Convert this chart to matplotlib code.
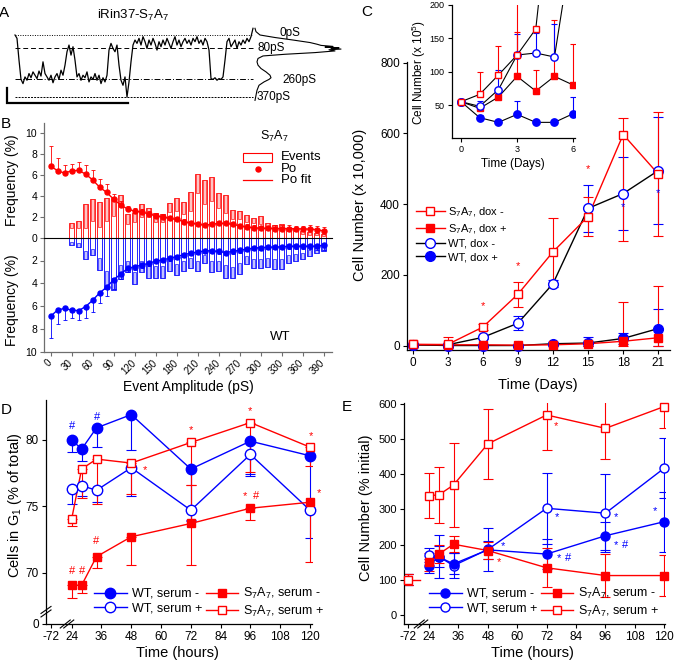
import matplotlib
matplotlib.use("Agg")
import matplotlib.pyplot as plt
from matplotlib.lines import Line2D
from matplotlib.patches import Rectangle
import numpy as np

plt.rcParams['font.family'] = ['Liberation Sans', 'DejaVu Sans']
plt.rcParams['mathtext.fontset'] = 'custom'
plt.rcParams['mathtext.rm'] = 'Liberation Sans'
plt.rcParams['mathtext.it'] = 'Liberation Sans:italic'
plt.rcParams['mathtext.bf'] = 'Liberation Sans:bold'
plt.rcParams['axes.linewidth'] = 0.9

RED = '#ff0000'
BLUE = '#0000ff'
PALE_RED = '#ffc4c4'
PALE_BLUE = '#c4c4ff'
GREY = '#6e6e6e'

# ---------------- Panel A data ----------------
trace_pS = [0, 20, 150, 265, 290, 250, 270, 230, 255, 220,
            240, 260, 215, 245, 160, 230, 250, 270, 240, 285,
            250, 230, 265, 210, 240, 180, 100, 60, 120, 70,
            150, 250, 230, 270, 240, 255, 220, 280, 250, 265,
            230, 270, 240, 290, 255, 280, 240, 90, 50, 80,
            100, 60, 180, 270, 300, 250, 370, 280, 160, 60,
            30, 50, 20, 60, 10, 40, 80, 30, 60, 20,
            50, 90, 40, 70, 30, 60, 20, 50, 80, 40,
            10, 60, 30, 70, 40, 20, 50, 30, 60, 20,
            40, 10, 50, 30, 60, 20, 40, 90, 260, 265,
            255, 270, 260, 265, 250, 150, 40, 20, 70, 50,
            30, 80, 40, 60, 30, 50, 20, 40, 10, -40]
hist_levels_pS = [-40, -20, 0, 15, 30, 45, 55, 62, 68, 72, 76, 80, 84, 88, 95, 105,
                  115, 125, 140, 160, 180, 200, 220, 240, 255, 265, 280, 300, 330, 360, 390]
hist_counts = [0, 1, 5, 20, 38, 55, 62, 66, 78, 70, 84, 76, 86, 74, 80, 60,
               30, 8, 3, 2, 3, 6, 11, 15, 16, 14, 9, 4, 2, 1, 0]
level_values_pS = [0, 80, 260, 370]
level_labels = ['0pS', '80pS', '260pS', '370pS']

# ---------------- Panel B data ----------------
amp_pS = [0, 10, 20, 30, 40, 50, 60, 70, 80, 90, 100, 110, 120, 130, 140, 150, 160, 170, 180, 190,
          200, 210, 220, 230, 240, 250, 260, 270, 280, 290, 300, 310, 320, 330, 340, 350, 360, 370, 380, 390]
po_s7 = [6.9, 6.4, 6.2, 6.4, 6.45, 6.1, 5.55, 4.85, 4.35, 3.7,
         3.15, 2.75, 2.55, 2.45, 2.3, 2.1, 2.0, 1.85, 1.75, 1.55,
         1.4, 1.3, 1.2, 1.28, 1.37, 1.37, 1.28, 1.15, 1.02, 0.96,
         0.9, 0.9, 0.88, 0.88, 0.88, 0.85, 0.85, 0.82, 0.78, 0.65]
po_s7_err = [1.9, 1.2, 0.8, 0.7, 0.85, 0.9, 0.95, 0.75, 0.75, 0.5,
             0.35, 0.3, 0.3, 0.3, 0.3, 0.25, 0.25, 0.2, 0.2, 0.2,
             0.2, 0.2, 0.2, 0.2, 0.2, 0.2, 0.2, 0.2, 0.25, 0.25,
             0.25, 0.25, 0.3, 0.3, 0.3, 0.3, 0.3, 0.35, 0.35, 0.4]
po_wt = [6.9, 6.35, 6.2, 6.35, 6.4, 6.05, 5.5, 4.85, 4.35, 3.7,
         3.2, 2.7, 2.55, 2.4, 2.25, 2.05, 1.95, 1.8, 1.65, 1.5,
         1.35, 1.25, 1.15, 1.15, 1.2, 1.3, 1.2, 1.1, 1.0, 0.92,
         0.87, 0.83, 0.83, 0.8, 0.75, 0.75, 0.75, 0.75, 0.75, 0.65]
po_wt_err = [1.9, 1.25, 1.0, 0.7, 0.8, 0.95, 1.0, 0.9, 0.75, 0.8,
             0.4, 0.3, 0.25, 0.25, 0.25, 0.2, 0.2, 0.2, 0.2, 0.2,
             0.2, 0.2, 0.2, 0.2, 0.2, 0.2, 0.2, 0.2, 0.2, 0.2,
             0.2, 0.2, 0.2, 0.2, 0.2, 0.25, 0.25, 0.25, 0.3, 0.4]
events_amp_s7 = [30, 40, 50, 60, 70, 80, 90, 100, 110, 120, 130, 140, 150, 160, 170, 180, 190,
                 200, 210, 220, 230, 240, 250, 260, 270, 280, 290, 300, 310, 320, 330, 340, 350,
                 360, 370, 380, 390]
events_top_s7 = [1.45, 1.6, 3.2, 3.75, 3.45, 3.85, 3.8, 4.1, 2.25, 2.35,
                 3.2, 2.8, 2.35, 2.25, 3.3, 3.85, 3.45, 4.4, 6.15, 5.5,
                 5.85, 4.25, 4.1, 2.7, 2.6, 2.15, 1.85, 2.05, 1.4, 1.2,
                 1.3, 0.9, 0.9, 0.6, 0.5, 0.45, 0.35]
events_mid_s7 = [0.9, 0.9, 0.9, 1.6, 1.0, 1.6, 2.1, 3.0, 1.3, 1.5,
                 2.0, 2.0, 1.5, 1.5, 2.5, 2.6, 2.3, 2.6, 4.3, 3.2,
                 3.5, 2.8, 2.4, 1.8, 1.8, 1.5, 1.4, 1.3, 0.9, 0.9,
                 0.8, 0.6, 0.6, 0.4, 0.3, 0.3, 0.2]
events_amp_wt = [20, 30, 40, 50, 60, 70, 80, 90, 100, 110, 120, 130, 140, 150, 160, 170, 180, 190,
                 200, 210, 220, 230, 240, 250, 260, 270, 280, 290, 300, 310, 320, 330, 340, 350,
                 360, 370, 380, 390]
events_top_wt = [0.05, 0.65, 0.85, 1.9, 1.5, 2.8, 4.5, 4.6, 3.6, 3.0,
                 4.1, 3.0, 3.5, 3.5, 3.5, 2.9, 3.25, 2.9, 2.7, 2.9,
                 2.2, 3.0, 2.9, 3.5, 3.5, 3.2, 2.3, 2.65, 2.65, 2.6,
                 2.75, 2.75, 2.2, 2.05, 1.9, 1.6, 1.3, 1.15]
events_mid_wt = [0.03, 0.4, 0.5, 1.2, 1.0, 1.8, 2.9, 3.5, 2.4, 2.0,
                 3.0, 2.0, 2.5, 2.5, 2.5, 2.0, 2.3, 2.0, 1.8, 2.0,
                 1.5, 2.0, 2.0, 2.4, 2.6, 2.2, 1.6, 1.9, 1.9, 1.8,
                 1.9, 1.9, 1.5, 1.4, 1.3, 1.1, 0.9, 0.8]
b_xticks = [0, 30, 60, 90, 120, 150, 180, 210, 240, 270, 300, 330, 360, 390]

# ---------------- Panel C data ----------------
days_main = [0, 3, 6, 9, 12, 15, 18, 21]
c_s7_doxm = [3, 3, 52, 145, 265, 365, 597, 485]
c_s7_doxm_lo = [0, 3, 8, 35, 95, 55, 300, 175]
c_s7_doxm_hi = [0, 20, 8, 35, 95, 55, 46, 175]
c_wt_doxm = [2, 2, 23, 63, 175, 388, 430, 495]
c_wt_doxm_err = [0, 0, 5, 20, 10, 66, 104, 151]
c_s7_doxp = [3, 2, 2, 1, 2, 5, 12, 22]
c_s7_doxp_lo = [0, 0, 0, 0, 0, 5, 12, 22]
c_s7_doxp_hi = [0, 0, 0, 0, 0, 5, 110, 145]
c_wt_doxp = [2, 0, 0, 0, 5, 7, 20, 48]
c_wt_doxp_lo = [0, 0, 0, 0, 5, 7, 16, 48]
c_wt_doxp_hi = [0, 0, 0, 0, 5, 18, 16, 54]
c_red_star = [(6, 112), (9, 225), (15, 498)]
c_blue_star = [(18, 393), (21, 432)]

days_inset = [0, 1, 2, 3, 4, 5, 6]
i_s7_doxm = [55, 66, 95, 125, 164, 420, 700]
i_s7_doxm_hi = [0, 34, 44, 100, 0, 0, 0]
i_wt_doxm = [55, 48, 73, 125, 128, 122, 300]
i_wt_doxm_hi = [0, 8, 29, 32, 30, 50, 0]
i_s7_doxp = [55, 45, 62, 93, 71, 93, 80]
i_s7_doxp_hi = [0, 0, 0, 67, 31, 84, 61]
i_wt_doxp = [55, 31, 24, 36, 24, 24, 37]
i_wt_doxp_hi = [0, 4, 3, 20, 4, 3, 25]

# ---------------- Panel D data ----------------
hours = [24, 28, 34, 48, 72, 96, 120]
hour_ticks = [24, 36, 48, 60, 72, 84, 96, 108, 120]
g1_wt_sm = [80.0, 79.3, 80.9, 81.9, 77.8, 79.9, 78.8]
g1_wt_sm_lo = [0.95, 0.9, 1.45, 2.7, 3.8, 2.6, 3.8]
g1_wt_sm_hi = [0, 0, 0, 0, 0, 0, 0]
g1_wt_sp = [76.3, 76.55, 76.2, 77.9, 74.7, 78.9, 74.7]
g1_wt_sp_lo = [1.15, 0.8, 0.9, 2.1, 0.8, 1.5, 2.1]
g1_wt_sp_hi = [0, 0, 0, 0, 3.1, 0, 0]
g1_s7_sm = [69.05, 69.05, 71.2, 72.7, 73.7, 74.85, 75.3]
g1_s7_sm_lo = [0.95, 0.55, 0.85, 2.1, 3.1, 0.85, 4.5]
g1_s7_sm_hi = [0, 0, 0, 0, 2.9, 0, 0]
g1_s7_sp = [74.05, 77.8, 78.55, 78.25, 79.8, 81.3, 79.45]
g1_s7_sp_lo = [0.55, 2.2, 3.35, 2.3, 3.2, 3.7, 1.4]
g1_s7_sp_hi = [0, 0, 0, 0, 0, 0, 0]
d_marks = [('#', BLUE, 24.1, 81.05), ('#', BLUE, 34.2, 81.7), ('*', RED, 72, 80.7),
           ('*', RED, 95.8, 82.2), ('*', RED, 120.4, 80.3), ('*', RED, 53.5, 77.75),
           ('*', RED, 123.7, 76.0), ('*', RED, 93.8, 75.8), ('#', RED, 98.3, 75.8),
           ('#', RED, 33.8, 72.4), ('#', RED, 24.1, 70.15), ('#', RED, 28.2, 70.15)]

# ---------------- Panel E data ----------------
baseline_value = 100
baseline_err = 15
cn_wt_sm = [140, 165, 145, 185, 173, 225, 265]
cn_wt_sm_err = [20, 30, 30, 25, 43, 40, 85]
cn_wt_sp = [170, 166, 140, 186, 303, 289, 417]
cn_wt_sp_err = [20, 60, 35, 60, 100, 110, 85]
cn_s7_sm = [150, 173, 201, 183, 134, 112, 112]
cn_s7_sm_err = [25, 25, 23, 25, 55, 60, 58]
cn_s7_sp = [339, 341, 369, 486, 568, 530, 592]
cn_s7_sp_err = [64, 80, 120, 100, 100, 88, 60]
e_marks = [('*', RED, 75.8, 537), ('*', RED, 52.6, 150), ('*', BLUE, 54.2, 196),
           ('*', BLUE, 77.1, 162), ('#', BLUE, 80.7, 162), ('*', BLUE, 76.2, 278),
           ('*', BLUE, 100.3, 278), ('*', BLUE, 100.3, 199), ('#', BLUE, 104.0, 199),
           ('*', BLUE, 116.2, 295)]

# ---------------- helpers ----------------
W, H = 674, 664
fig = plt.figure(figsize=(W / 100, H / 100), dpi=100)


def fx(x):
    return x / W


def fy(y):
    return 1 - y / H


def box(l, t, r, b):
    return [l / W, 1 - b / H, (r - l) / W, (b - t) / H]


def series(ax, x, y, lo, hi, color, linecolor, marker, filled, ms, capsize,
           lw=1.0, clip=False, elw=0.8):
    ax.errorbar(x, y, yerr=[lo, hi], fmt='none', ecolor=color, elinewidth=elw,
                capsize=capsize, capthick=elw, zorder=2)
    ax.plot(x, y, color=linecolor, lw=lw, zorder=3)
    ax.plot(x, y, linestyle='none', marker=marker, ms=ms, mec=color,
            mfc=color if filled else 'white', mew=1.0, zorder=4, clip_on=clip)


def handle(color, linecolor, marker, filled, ms):
    return Line2D([], [], color=linecolor, lw=1.0, marker=marker, ms=ms, mec=color,
                  mfc=color if filled else 'white', mew=1.0)


def style_axes(ax, size=8, color='black'):
    for s in ('top', 'right'):
        ax.spines[s].set_visible(False)
    for s in ('left', 'bottom'):
        ax.spines[s].set_color(color)
    ax.tick_params(direction='out', length=3, width=0.8, labelsize=size, color=color, pad=2)


def brk(xp, yp, size=5, gap=3.5):
    for d in (-gap / 2, gap / 2):
        fig.add_artist(Line2D([fx(xp - size + d), fx(xp + size + d)],
                              [fy(yp + size * 0.8), fy(yp - size * 0.8)],
                              color='black', lw=0.8, transform=fig.transFigure))


def vbrk(xp, yp, size=5, gap=3.5):
    for d in (-gap / 2, gap / 2):
        fig.add_artist(Line2D([fx(xp - size), fx(xp + size)],
                              [fy(yp + size * 0.7 + d), fy(yp - size * 0.7 + d)],
                              color='black', lw=0.8, transform=fig.transFigure))

# ================= Panel A =================
axA = fig.add_axes(box(5, 25, 255, 106))
axA.set_xlim(-5, 120)
scale = 0.1676
axA.set_ylim((106 - 35) / scale, -(35 - 25) / scale)
axA.axis('off')
t = np.arange(len(trace_pS))
axA.plot(t, trace_pS, color='black', lw=0.9)
level_styles = [(0, (1, 1.5)), (0, (5, 3)), (0, (6, 2, 1, 2)), (0, (2, 1.2))]
for lv, ls in zip(level_values_pS, level_styles):
    axA.hlines(lv, t[0], t[-1], color='black', lw=0.7, linestyles=[ls])
axA.plot([-4, -4, 56.5], [316, 406, 406], color='black', lw=1.6, clip_on=False,
         solid_joinstyle='miter')

axHist = fig.add_axes(box(255, 25, 345, 106))
axHist.set_xlim(0, 90)
axHist.set_ylim((106 - 35) / scale, -(35 - 25) / scale)
axHist.axis('off')
axHist.plot(hist_counts, hist_levels_pS, color='black', lw=0.8, clip_on=False)
label_pos = [(25, -12), (2, 77), (27, 268), (2, 372)]
for (cx, cy), lab in zip(label_pos, level_labels):
    axHist.text(cx, cy, lab, fontsize=8.5, ha='left', va='center')

fig.text(fx(133), fy(15), 'iRin37-S$_7$A$_7$', ha='center', va='center', fontsize=9.5)
fig.text(fx(4), fy(13), 'A', ha='center', va='center', fontsize=11)

# ================= Panel B =================
axBu = fig.add_axes(box(44, 123.3, 331.7, 237.7))
axBl = fig.add_axes(box(44, 237.7, 331.7, 351.7))
for ax in (axBu, axBl):
    ax.set_xlim(-9.3, 401.7)
    style_axes(ax, size=7.5, color=GREY)
    ax.patch.set_alpha(0)
axBu.set_ylim(0, 10.96)
axBl.set_ylim(10, 0)
axBu.spines['bottom'].set_visible(False)
axBu.set_xticks([])
axBu.set_yticks([0, 2, 4, 6, 8, 10])
axBl.set_yticks([2, 4, 6, 8, 10])
axBl.set_xticks(b_xticks)
axBl.set_xticklabels([str(v) for v in b_xticks], rotation=45, ha='right', va='center',
                     rotation_mode='anchor')
axBl.tick_params(axis='x', pad=4, labelsize=7)

bw = 6.3
axBu.bar(events_amp_s7, events_top_s7, width=bw, fill=False, edgecolor=RED, lw=0.6, zorder=1)
axBu.bar(events_amp_s7, np.array(events_top_s7) - np.array(events_mid_s7), bottom=events_mid_s7,
         width=bw * 0.7, color=PALE_RED, edgecolor=RED, lw=0.45, zorder=1)
axBl.bar(events_amp_wt, events_top_wt, width=bw, fill=False, edgecolor=BLUE, lw=0.6, zorder=1)
axBl.bar(events_amp_wt, np.array(events_top_wt) - np.array(events_mid_wt), bottom=events_mid_wt,
         width=bw * 0.7, color=PALE_BLUE, edgecolor=BLUE, lw=0.45, zorder=1)
zeros40 = np.zeros(len(amp_pS))
axBu.errorbar(amp_pS, po_s7, yerr=[zeros40, po_s7_err], fmt='o-', color=RED, ms=3.6, lw=1.0,
              elinewidth=0.6, capsize=1.5, capthick=0.6, zorder=3)
axBl.errorbar(amp_pS, po_wt, yerr=[zeros40, po_wt_err], fmt='o-', color=BLUE, ms=3.6, lw=1.0,
              elinewidth=0.6, capsize=1.5, capthick=0.6, zorder=3)
axBl.axhline(0, color='black', lw=0.8, zorder=5, clip_on=False)

fig.text(fx(12), fy(180), 'Frequency (%)', rotation=90, ha='center', va='center', fontsize=10)
fig.text(fx(12), fy(300), 'Frequency (%)', rotation=90, ha='center', va='center', fontsize=10)
fig.text(fx(188), fy(387), 'Event Amplitude (pS)', ha='center', va='center', fontsize=10)
fig.text(fx(6), fy(124), 'B', ha='center', va='center', fontsize=11)
fig.text(fx(274), fy(136), 'S$_7$A$_7$', ha='center', va='center', fontsize=9)
fig.add_artist(Rectangle((fx(243), fy(162)), (272 - 243) / W, (162 - 153) / H,
                         transform=fig.transFigure, fill=False, edgecolor=RED, lw=0.8))
fig.add_artist(Line2D([fx(258)], [fy(169)], marker='o', color=RED, ms=3.6,
                      transform=fig.transFigure))
fig.add_artist(Line2D([fx(243), fx(272)], [fy(180), fy(180)], color=RED, lw=0.9,
                      transform=fig.transFigure))
for yy, lab in ((157, 'Events'), (169, 'Po'), (180, 'Po fit')):
    fig.text(fx(281), fy(yy), lab, ha='left', va='center', fontsize=9.5)
fig.text(fx(280), fy(337), 'WT', ha='center', va='center', fontsize=9.5)

# ================= Panel C =================
axC = fig.add_axes(box(406.7, 61.7, 670, 350))
axC.set_xlim(-0.5, 22)
axC.set_ylim(-12.7, 803)
style_axes(axC, size=8.5)
axC.set_xticks(days_main)
axC.set_yticks([0, 200, 400, 600, 800])
series(axC, days_main, c_wt_doxm, c_wt_doxm_err, c_wt_doxm_err, BLUE, 'black', 'o', False, 7, 3.5)
series(axC, days_main, c_wt_doxp, c_wt_doxp_lo, c_wt_doxp_hi, BLUE, 'black', 'o', True, 7, 3.5)
series(axC, days_main, c_s7_doxp, c_s7_doxp_lo, c_s7_doxp_hi, RED, RED, 's', True, 6.3, 3.5)
series(axC, days_main, c_s7_doxm, c_s7_doxm_lo, c_s7_doxm_hi, RED, RED, 's', False, 6.3, 3.5)
for d, v in c_red_star:
    axC.text(d, v, '*', color=RED, ha='center', va='center', fontsize=8)
for d, v in c_blue_star:
    axC.text(d, v, '*', color=BLUE, ha='center', va='center', fontsize=8)
hC = [handle(RED, RED, 's', False, 6.3), handle(RED, RED, 's', True, 6.3),
      handle(BLUE, 'black', 'o', False, 7), handle(BLUE, 'black', 'o', True, 7)]
axC.legend(hC, ['S$_7$A$_7$, dox -', 'S$_7$A$_7$, dox +', 'WT, dox -', 'WT, dox +'],
           loc='upper left', bbox_to_anchor=(fx(416), fy(205)), bbox_transform=fig.transFigure,
           frameon=False, fontsize=8, handlelength=2.6, handletextpad=0.3,
           labelspacing=0.3, borderpad=0, borderaxespad=0)
fig.text(fx(360), fy(205), 'Cell Number (x 10,000)', rotation=90, ha='center', va='center',
         fontsize=10.5)
fig.text(fx(538), fy(385), 'Time (Days)', ha='center', va='center', fontsize=10.5)
fig.text(fx(367), fy(12), 'C', ha='center', va='center', fontsize=11)

axI = fig.add_axes(box(451.7, 5, 575, 137.7))
axI.set_xlim(-0.5, 6.1)
axI.set_ylim(1, 200)
style_axes(axI, size=6.5)
axI.patch.set_alpha(0)
axI.set_xticks([0, 3, 6])
axI.set_yticks([50, 100, 150, 200])
series(axI, days_inset, i_wt_doxp, np.zeros(7), i_wt_doxp_hi, BLUE, 'black', 'o', True, 5.3, 2.5,
       lw=0.8, clip=True)
series(axI, days_inset, i_s7_doxp, np.zeros(7), i_s7_doxp_hi, RED, 'black', 's', True, 5.0, 2.5,
       lw=0.8, clip=True)
series(axI, days_inset, i_wt_doxm, np.zeros(7), i_wt_doxm_hi, BLUE, 'black', 'o', False, 5.3, 2.5,
       lw=0.8, clip=True)
series(axI, days_inset, i_s7_doxm, np.zeros(7), i_s7_doxm_hi, RED, 'black', 's', False, 5.0, 2.5,
       lw=0.8, clip=True)
fig.text(fx(419), fy(73), 'Cell Number (x 10$^5$)', rotation=90, ha='center', va='center',
         fontsize=8.5)
fig.text(fx(513), fy(164), 'Time (Days)', ha='center', va='center', fontsize=8.5)

# ================= Panel D =================
minus72_pos = 15.5
axD = fig.add_axes(box(46, 400, 311.7, 624))
axD.set_xlim(13.65, 120.7)
axD.set_ylim(66.13, 83)
style_axes(axD, size=8.5)
axD.set_yticks([66.13, 70, 75, 80])
axD.set_yticklabels(['0', '70', '75', '80'])
axD.set_xticks([minus72_pos] + hour_ticks)
axD.set_xticklabels(['-72'] + [str(h) for h in hour_ticks])
series(axD, hours, g1_wt_sp, g1_wt_sp_lo, g1_wt_sp_hi, BLUE, BLUE, 'o', False, 7.5, 3.5)
series(axD, hours, g1_wt_sm, g1_wt_sm_lo, g1_wt_sm_hi, BLUE, BLUE, 'o', True, 7.5, 3.5)
series(axD, hours, g1_s7_sm, g1_s7_sm_lo, g1_s7_sm_hi, RED, RED, 's', True, 6.0, 3.5)
series(axD, hours, g1_s7_sp, g1_s7_sp_lo, g1_s7_sp_hi, RED, RED, 's', False, 6.0, 3.5)
for s, c, hx, vy in d_marks:
    axD.text(hx, vy, s, color=c, ha='center', va='center', fontsize=8, clip_on=False)
hD = [handle(BLUE, BLUE, 'o', True, 7.5), handle(BLUE, BLUE, 'o', False, 7.5),
      handle(RED, RED, 's', True, 6.0), handle(RED, RED, 's', False, 6.0)]
axD.legend(hD, ['WT, serum -', 'WT, serum +', 'S$_7$A$_7$, serum -', 'S$_7$A$_7$, serum +'],
           ncol=2, loc='upper left', bbox_to_anchor=(fx(94), fy(586)),
           bbox_transform=fig.transFigure, frameon=False, fontsize=9, handlelength=2.6,
           handletextpad=0.4, columnspacing=0.3, labelspacing=0.2, borderpad=0,
           borderaxespad=0)
vbrk(46, 611.7)
brk(67, 624)
fig.text(fx(15), fy(505), 'Cells in G$_1$ (% of total)', rotation=90, ha='center', va='center',
         fontsize=10.5)
fig.text(fx(177), fy(653), 'Time (hours)', ha='center', va='center', fontsize=10.5)
fig.text(fx(6), fy(410), 'D', ha='center', va='center', fontsize=11)

# ================= Panel E =================
axE = fig.add_axes(box(404, 403, 664.5, 624))
axE.set_xlim(13.8, 120.1)
axE.set_ylim(-25.6, 602)
style_axes(axE, size=8)
axE.set_yticks([0, 100, 200, 300, 400, 500, 600])
axE.set_xticks([minus72_pos] + hour_ticks)
axE.set_xticklabels(['-72'] + [str(h) for h in hour_ticks])
axE.tick_params(axis='x', labelsize=8.5)
base_x = [minus72_pos, 20.3]
for col in (BLUE, BLUE, RED, RED):
    axE.errorbar([minus72_pos], [baseline_value], yerr=[[baseline_err], [baseline_err]], fmt='none',
                 ecolor=col, elinewidth=0.8, capsize=3.5, capthick=0.8, zorder=2)
axE.plot(base_x, [baseline_value, baseline_value], color=RED, lw=1.0, zorder=3)
axE.plot([minus72_pos], [baseline_value], 's', ms=6, mec=RED, mfc='white', mew=1.0, zorder=4,
         clip_on=False)
series(axE, hours, cn_wt_sp, cn_wt_sp_err, cn_wt_sp_err, BLUE, BLUE, 'o', False, 6.5, 3.5)
series(axE, hours, cn_wt_sm, cn_wt_sm_err, cn_wt_sm_err, BLUE, BLUE, 'o', True, 6.5, 3.5)
series(axE, hours, cn_s7_sm, cn_s7_sm_err, cn_s7_sm_err, RED, RED, 's', True, 5.8, 3.5)
series(axE, hours, cn_s7_sp, cn_s7_sp_err, cn_s7_sp_err, RED, RED, 's', False, 5.8, 3.5)
for s, c, hx, vy in e_marks:
    axE.text(hx, vy, s, color=c, ha='center', va='center', fontsize=8, clip_on=False)
hE = [handle(BLUE, BLUE, 'o', True, 6.5), handle(BLUE, BLUE, 'o', False, 6.5),
      handle(RED, RED, 's', True, 5.8), handle(RED, RED, 's', False, 5.8)]
axE.legend(hE, ['WT, serum -', 'WT, serum +', 'S$_7$A$_7$, serum -', 'S$_7$A$_7$, serum +'],
           ncol=2, loc='upper left', bbox_to_anchor=(fx(429), fy(586)),
           bbox_transform=fig.transFigure, frameon=False, fontsize=9, handlelength=2.6,
           handletextpad=0.4, columnspacing=0.3, labelspacing=0.2, borderpad=0,
           borderaxespad=0)
brk(421, 624)
fig.text(fx(366), fy(508), 'Cell Number (% initial)', rotation=90, ha='center', va='center',
         fontsize=10.5)
fig.text(fx(532), fy(653), 'Time (hours)', ha='center', va='center', fontsize=10.5)
fig.text(fx(347), fy(407), 'E', ha='center', va='center', fontsize=11)

fig.savefig('out.png', dpi=100)
